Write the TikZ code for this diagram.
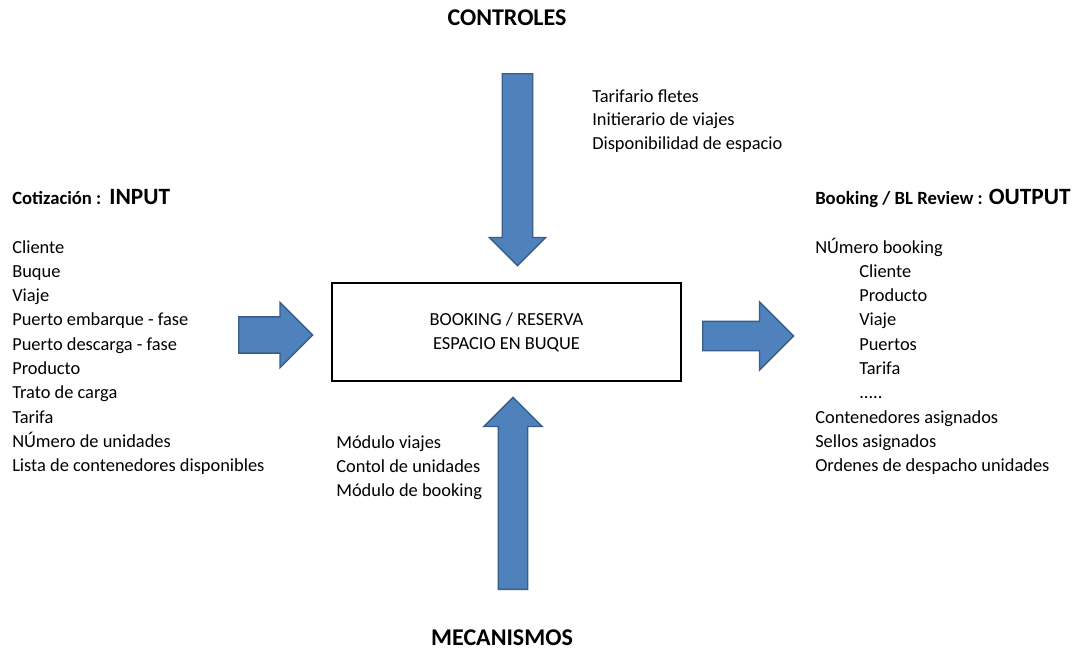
\documentclass[tikz,border=0pt]{standalone}
\usepackage{fontspec}
\setmainfont{Carlito}
\usepackage{tikz}
\usetikzlibrary{shapes,arrows}
\definecolor{officeblue}{RGB}{79,129,189}
\definecolor{officeedge}{RGB}{56,93,138}

\begin{document}
\begin{tikzpicture}[x=0.75pt,y=-0.75pt,inner sep=0pt]
\tikzstyle{bigarrow}=[single arrow,draw=officeedge,fill=officeblue,line width=1pt,single arrow tip angle=90,inner xsep=0pt,anchor=tail]
\tikzstyle{item}=[anchor=base west,font=\fontsize{13.8}{16}\selectfont]
\tikzstyle{title}=[font=\fontsize{18}{21}\selectfont\bfseries]
\tikzstyle{head}=[anchor=base west,font=\fontsize{14}{16}\selectfont\bfseries]
\useasboundingbox (0,0) rectangle (1086,653);

% proceso central
\node[draw,line width=1.2pt,minimum width=261.75pt,minimum height=73.5pt,align=center,
      font=\fontsize{13.8}{18.2}\selectfont] (booking) at (506.5,332) {BOOKING / RESERVA\\ESPACIO EN BUQUE};

% flechas
\node[bigarrow,rotate=-90,minimum height=144pt,inner ysep=10.9pt,single arrow head extend=9.75pt] (ctrlarrow) at (517.5,73) {};
\node[bigarrow,rotate=90,minimum height=144pt,inner ysep=10.5pt,single arrow head extend=10.9pt] (mecharrow) at (513,590) {};
\node[bigarrow,minimum height=55.5pt,inner ysep=13.1pt,single arrow head extend=10.9pt] (inarrow) at (238,335) {};
\node[bigarrow,minimum height=68.25pt,inner ysep=10.5pt,single arrow head extend=14.6pt] (outarrow) at (702,336) {};

% titulos
\node[title] (ctrltitle) at (507,18) {CONTROLES};
\node[title] (mechtitle) at (502,638) {MECANISMOS};
\node[head] (inhead) at (12,204) {Cotización :\hspace{6pt}{\fontsize{17.5}{20}\selectfont INPUT}};
\node[head] (outhead) at (815,204) {Booking / BL Review :\hspace{4.5pt}{\fontsize{17.5}{20}\selectfont OUTPUT}};

% listas
\foreach \txt [count=\k from 0] in {Tarifario fletes,Initierario de viajes,Disponibilidad de espacio}
  \node[item] (ctrl\k) at (592,{102+23.6*\k}) {\txt};
\foreach \txt [count=\k from 0] in {Cliente,Buque,Viaje,Puerto embarque - fase,Puerto descarga - fase,Producto,Trato de carga,Tarifa,NÚmero de unidades,Lista de contenedores disponibles}
  \node[item] (inp\k) at (12,{253+24.3*\k}) {\txt};
\foreach \xx/\txt [count=\k from 0] in {815/NÚmero booking,859/Cliente,859/Producto,859/Viaje,859/Puertos,859/Tarifa,859/{.....},815/Contenedores asignados,815/Sellos asignados,815/Ordenes de despacho unidades}
  \node[item] (out\k) at (\xx,{253+24.3*\k}) {\txt};
\foreach \txt [count=\k from 0] in {Módulo viajes,Contol de unidades,Módulo de booking}
  \node[item] (mech\k) at (336,{448+24.3*\k}) {\txt};
\end{tikzpicture}
\end{document}
